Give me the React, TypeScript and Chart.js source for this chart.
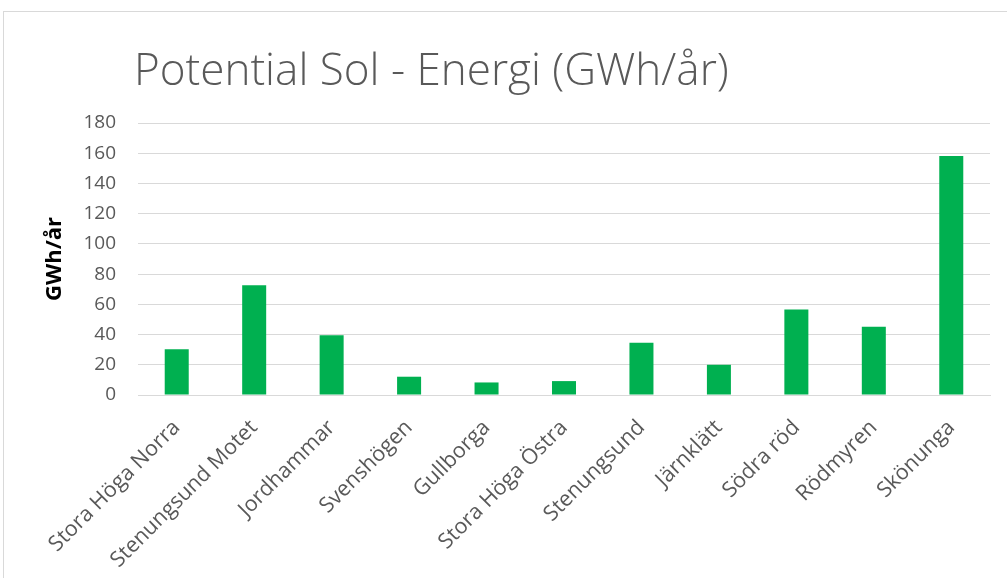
import React, { useEffect, useRef } from "react";
import { Chart, registerables } from "chart.js";

Chart.register(...registerables);

const categories: string[] = [
  "Stora Höga Norra",
  "Stenungsund Motet",
  "Jordhammar",
  "Svenshögen",
  "Gullborga",
  "Stora Höga Östra",
  "Stenungsund",
  "Järnklätt",
  "Södra röd",
  "Rödmyren",
  "Skönunga",
];

const energyValues: number[] = [30.2, 72.7, 39.6, 12.1, 8.3, 9.2, 34.6, 20.0, 56.6, 45.2, 158.2];

const chartTitle = "Potential Sol - Energi (GWh/år)";
const yAxisTitle = "GWh/år";
const yMin = 0;
const yMax = 180;
const yStep = 20;

const titleShift = {
  id: "titleShift",
  afterLayout(chart: any) {
    if (chart.titleBlock) {
      chart.titleBlock.left -= 4;
      chart.titleBlock.right -= 4;
    }
  },
};

export default function App() {
  const canvasRef = useRef<HTMLCanvasElement | null>(null);

  useEffect(() => {
    if (!canvasRef.current) return;
    const chart = new Chart(canvasRef.current, {
      type: "bar",
      data: {
        labels: categories,
        datasets: [
          {
            label: yAxisTitle,
            data: energyValues,
            backgroundColor: "#00B050",
            borderWidth: 0,
            barPercentage: 0.31,
            categoryPercentage: 1,
          },
        ],
      },
      plugins: [titleShift],
      options: {
        animation: false,
        responsive: false,
        devicePixelRatio: 1,
        layout: { padding: { left: 0, right: 17, top: 0, bottom: 0 } },
        plugins: {
          legend: { display: false },
          tooltip: { enabled: false },
          title: {
            display: true,
            text: chartTitle,
            align: "start",
            fullSize: false,
            color: "#595959",
            font: { family: "Open Sans", size: 44, weight: "300", lineHeight: 1.2 },
            padding: { top: 46.5, bottom: 23.7 },
          },
        },
        scales: {
          x: {
            grid: { display: false, drawTicks: false },
            border: { display: true, color: "#d9d9d9", width: 1 },
            ticks: {
              color: "#595959",
              font: { family: "Open Sans", size: 21.5 },
              minRotation: 45,
              maxRotation: 45,
              autoSkip: false,
              padding: 20,
            },
            afterFit: (scale: any) => {
              scale.height = 183;
            },
          },
          y: {
            min: yMin,
            max: yMax,
            grid: { color: "#d9d9d9", lineWidth: 1, drawTicks: false },
            border: { display: false },
            ticks: {
              stepSize: yStep,
              color: "#595959",
              font: { family: "Open Sans", size: 19 },
              padding: 22,
            },
            title: {
              display: true,
              text: yAxisTitle,
              color: "#000000",
              font: { family: "Open Sans", size: 22, weight: "bold", lineHeight: 1.2 },
              padding: { top: 42, bottom: 0 },
            },
            afterFit: (scale: any) => {
              scale.width = 138;
            },
          },
        },
      },
    });
    return () => chart.destroy();
  }, []);

  return (
    <div
      style={{
        position: "absolute",
        left: 0,
        top: 0,
        width: 1007,
        height: 578,
        overflow: "hidden",
        background: "#ffffff",
      }}
    >
      <div
        style={{
          position: "absolute",
          left: 3,
          top: 11,
          width: 1020,
          height: 600,
          borderLeft: "1px solid #d9d9d9",
          borderTop: "1px solid #d9d9d9",
        }}
      />
      <canvas
        ref={canvasRef}
        width={1007}
        height={578}
        style={{ position: "absolute", left: 0, top: 0, width: 1007, height: 578 }}
      />
    </div>
  );
}
